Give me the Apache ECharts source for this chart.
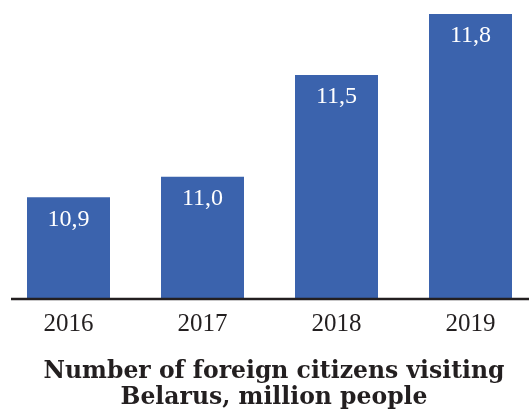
<!DOCTYPE html>
<html>
<head>
<meta charset="utf-8">
<script src="https://cdn.jsdelivr.net/npm/echarts@6/dist/echarts.min.js"></script>
<style>
  html, body { margin: 0; padding: 0; background: #fff; }
  #chart { width: 529px; height: 409px; }
</style>
</head>
<body>
<div id="chart"></div>
<script>
// Foreign citizens visiting Belarus, million people
const years = ['2016', '2017', '2018', '2019'];
const visitors = [10.9, 11.0, 11.5, 11.8];
const titleText = 'Number of foreign citizens visiting\nBelarus, million people';

const serif = '"Liberation Serif", "DejaVu Serif", serif';
const chart = echarts.init(document.getElementById('chart'));

chart.setOption({
  animation: false,
  backgroundColor: '#ffffff',
  title: {
    text: titleText,
    left: 269,
    top: 354,
    textAlign: 'center',
    textStyle: {
      fontFamily: '"DejaVu Serif", serif',
      fontWeight: 'bold',
      fontSize: 23.5,
      lineHeight: 26,
      color: '#231f20'
    }
  },
  grid: {
    left: 1.5, top: 14, width: 536, height: 285,
    containLabel: false, outerBoundsMode: 'none'
  },
  xAxis: {
    type: 'category',
    data: years,
    axisLine: { show: false },
    axisTick: { show: false },
    axisLabel: {
      fontFamily: serif,
      fontSize: 25,
      color: '#231f20',
      margin: 13
    }
  },
  yAxis: {
    type: 'value',
    min: 10.4,
    max: 11.8,
    show: false,
    splitLine: { show: false }
  },
  series: [{
    type: 'bar',
    data: visitors,
    barWidth: 83,
    itemStyle: { color: '#3b63ad' },
    label: {
      show: true,
      position: 'insideTop',
      distance: 10,
      color: '#ffffff',
      fontFamily: serif,
      fontSize: 24,
      formatter: p => p.value.toFixed(1).replace('.', ',')
    }
  }],
  graphic: [{
    // baseline under the bars
    type: 'line',
    shape: { x1: 11, y1: 299, x2: 529, y2: 299 },
    style: { stroke: '#231f20', lineWidth: 2.5 },
    z: 10
  }]
});
</script>
</body>
</html>
